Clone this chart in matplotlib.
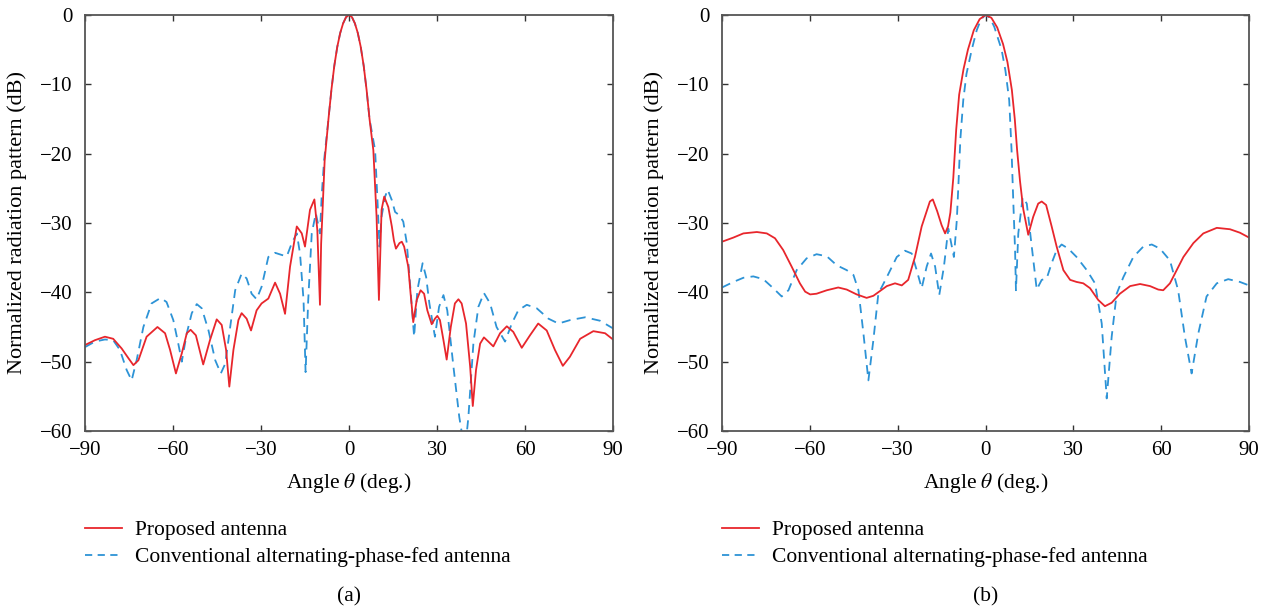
import matplotlib
matplotlib.use("Agg")
import matplotlib.pyplot as plt
from matplotlib.lines import Line2D

plt.rcParams['font.family'] = ['Liberation Serif', 'DejaVu Serif']
plt.rcParams['mathtext.fontset'] = 'stix'

# ---------------- Panel (a) data ----------------
a_red_ang = [-90.0, -86.6, -83.2, -80.4, -77.5, -75.2, -73.5, -71.8, -69.0, -65.3, -62.7, -61.0, -59.0,
             -57.0, -55.3, -54.0, -52.2, -49.7, -47.4, -45.1, -43.4, -41.9, -40.8, -39.4, -37.7, -36.6,
             -34.9, -33.4, -31.5, -29.8, -27.5, -25.2, -23.5, -21.8, -20.1, -17.8, -16.1, -15.0, -13.3,
             -11.8, -10.8, -9.9, -9.5, -9.0, -8.3, -7.0, -6.0, -5.0, -4.0, -3.0, -2.0, -1.0, 0.0,
             1.0, 2.0, 3.0, 4.0, 5.0, 6.0, 7.0, 8.3, 9.4, 10.2, 11.1, 12.0, 13.4, 14.6, 15.3, 16.0,
             17.2, 18.0, 18.8, 20.2, 21.0, 21.9, 23.1, 24.4, 25.6, 26.7, 28.2, 29.3, 30.1, 31.0, 32.2,
             33.3, 34.7, 36.1, 37.3, 38.4, 39.9, 41.3, 42.2, 43.3, 44.7, 46.0, 47.5, 49.2, 51.5, 53.8,
             56.0, 58.9, 61.7, 64.5, 67.4, 70.2, 72.9, 75.3, 78.8, 83.3, 87.3, 90.0]
a_red_db = [-47.6, -46.9, -46.4, -46.7, -48.1, -49.5, -50.5, -49.8, -46.4, -45.0, -45.9, -48.3, -51.7,
            -48.8, -45.9, -45.4, -46.2, -50.4, -46.9, -43.9, -44.7, -48.3, -53.6, -48.3, -44.0, -43.0,
            -43.8, -45.5, -42.6, -41.6, -40.9, -38.6, -40.2, -43.1, -36.3, -30.5, -31.5, -33.4, -28.1,
            -26.6, -31.0, -41.8, -33.0, -28.0, -21.0, -15.0, -10.8, -7.3, -4.6, -2.6, -1.2, -0.3, 0.0,
            -0.3, -1.2, -2.6, -4.6, -7.3, -10.8, -15.0, -19.5, -29.1, -41.1, -28.1, -26.2, -27.7, -30.5, -32.5, -33.7,
            -32.9, -32.7, -33.4, -36.3, -40.2, -44.3, -41.1, -39.7, -40.2, -42.6, -44.6, -43.8, -43.4, -44.0, -46.9,
            -49.7, -45.0, -41.6, -41.0, -41.6, -44.5, -50.7, -56.4, -51.2, -47.4, -46.5, -47.1, -47.8, -45.9, -44.9,
            -45.7, -48.0, -46.2, -44.5, -45.5, -48.3, -50.6, -49.3, -46.7, -45.6, -45.9, -46.8]

a_blue_ang = [-90.0, -86.6, -83.2, -80.4, -78.1, -75.8, -74.1, -72.4, -70.1, -67.3, -64.2, -62.2, -59.9,
              -58.2, -57.0, -55.3, -53.6, -51.9, -50.2, -47.9, -45.6, -43.7, -42.2, -40.5, -38.8, -36.6,
              -34.9, -33.2, -31.5, -29.8, -27.5, -25.2, -23.0, -21.2, -19.5, -17.8, -16.7, -15.5, -14.8,
              -13.9, -12.7, -11.3, -9.9, -9.3, -8.5, -7.0, -6.0, -5.0, -4.0, -3.0, -2.0, -1.0, 0.0,
              1.0, 2.0, 3.0, 4.0, 5.0, 6.0, 7.0, 8.9, 9.7, 10.4, 11.1, 12.3, 13.2, 14.6, 15.7, 17.2,
              18.5, 19.7, 20.8, 22.2, 23.3, 25.1, 26.3, 27.4, 29.3, 30.7, 32.2, 33.5, 35.6, 37.6, 39.5,
              40.7, 42.4, 44.1, 46.0, 48.1, 50.3, 53.2, 55.5, 57.7, 60.6, 64.0, 68.0, 71.4, 75.4, 80.5,
              85.6, 90.0]
a_blue_db = [-47.9, -47.1, -46.8, -46.9, -48.3, -51.2, -52.7, -49.8, -45.0, -41.6, -40.8, -41.4, -44.0,
             -47.4, -50.0, -45.9, -43.0, -41.7, -42.3, -45.5, -49.8, -51.7, -50.3, -45.0, -39.7, -37.3,
             -38.0, -40.2, -41.0, -39.2, -34.9, -34.3, -34.6, -34.8, -32.9, -31.5, -34.4, -41.1, -51.5,
             -41.1, -31.5, -28.6, -31.5, -26.0, -21.0, -15.0, -10.8, -7.3, -4.6, -2.6, -1.2, -0.3, 0.0,
             -0.3, -1.2, -2.6, -4.6, -7.3, -10.8, -15.0, -19.5, -26.7, -33.4, -29.1, -26.2, -25.2, -26.7, -28.4, -28.9,
             -29.8, -32.9, -38.7, -46.4, -39.7, -35.8, -37.8, -41.6, -46.4, -42.1, -40.4, -42.6, -50.7, -58.0, -63.0,
             -58.0, -47.4, -42.1, -40.1, -41.6, -45.0, -47.1, -44.5, -42.6, -41.8, -42.3, -43.8, -44.5, -44.0, -43.6,
             -44.1, -45.2]

# ---------------- Panel (b) data ----------------
b_red_ang = [-90.0, -86.1, -82.7, -78.1, -74.7, -71.9, -69.1, -66.2, -63.4, -61.6, -59.9, -57.7, -54.2,
             -50.3, -47.4, -44.0, -40.6, -38.3, -36.0, -33.7, -30.9, -28.6, -26.4, -24.1, -21.8, -19.0,
             -18.0, -16.5, -15.0, -13.8, -12.8, -12.0, -11.0, -10.0, -9.0, -7.5, -6.0, -4.0, -2.0, 0.0,
             2.0, 4.0, 6.0, 7.5, 9.0, 10.0, 10.8, 11.8, 12.9, 14.6, 16.3, 18.0, 19.2, 20.7, 22.6, 24.3,
             26.6, 28.9, 31.1, 33.4, 35.7, 38.5, 40.8, 43.1, 45.9, 49.4, 52.8, 56.2, 59.0, 60.7, 63.0,
             65.3, 67.6, 71.0, 74.4, 79.0, 83.5, 86.9, 90.0]
b_red_db = [-32.7, -32.1, -31.5, -31.3, -31.5, -32.2, -33.9, -36.3, -38.7, -39.9, -40.3, -40.2, -39.7,
            -39.3, -39.6, -40.3, -40.8, -40.5, -39.8, -39.1, -38.7, -39.0, -38.2, -34.9, -30.5, -26.9,
            -26.6, -28.3, -30.3, -31.5, -30.5, -28.5, -23.5, -16.5, -11.5, -7.8, -5.0, -2.2, -0.6, 0.0,
            -0.4, -1.8, -4.2, -6.8, -10.8, -15.0, -19.5, -24.0, -28.0, -31.7, -29.1, -27.2, -26.9, -27.4, -30.5, -33.4,
            -36.8, -38.2, -38.5, -38.7, -39.4, -41.1, -42.0, -41.5, -40.2, -39.1, -38.8, -39.1, -39.6, -39.7, -38.7,
            -36.8, -34.9, -32.9, -31.5, -30.7, -30.9, -31.4, -32.1]

b_blue_ang = [-90.0, -86.1, -82.7, -79.3, -75.9, -72.5, -69.6, -67.3, -64.5, -61.1, -57.7, -54.2, -50.8,
              -47.4, -45.1, -43.4, -41.7, -40.0, -38.3, -36.6, -33.7, -30.3, -27.5, -25.2, -23.5, -21.8,
              -20.1, -18.6, -17.2, -15.8, -14.2, -12.7, -10.8, -9.8, -9.2, -8.6, -7.6, -6.5, -4.7, -3.0,
              -1.5, 0.0, 1.5, 3.0, 5.5, 6.8, 8.1, 8.9, 9.5, 10.1, 10.4, 11.2, 12.7, 14.1, 15.8, 17.5,
              19.2, 20.9, 22.6, 24.3, 26.0, 28.3, 31.1, 34.6, 37.4, 39.7, 41.4, 43.1, 44.8, 47.1, 50.5,
              53.9, 56.8, 59.6, 63.0, 65.8, 68.1, 70.4, 72.7, 75.5, 79.0, 82.9, 86.9, 90.0]
b_blue_db = [-39.3, -38.5, -37.9, -37.7, -38.1, -39.4, -40.6, -39.7, -36.8, -35.1, -34.5, -34.8, -36.1,
             -36.8, -37.5, -39.7, -45.9, -52.7, -46.9, -40.2, -37.8, -34.9, -34.0, -34.4, -36.8, -39.4,
             -36.3, -34.4, -36.3, -40.4, -36.3, -30.8, -34.9, -29.6, -24.0, -18.0, -12.3, -8.5, -5.0, -2.2,
             -0.6, 0.0, -0.4, -1.7, -5.0, -8.0, -12.3, -19.5, -27.0, -33.9, -39.7, -31.5, -26.3, -27.2, -33.4, -39.6,
             -38.2, -38.0, -35.8, -33.9, -33.1, -33.7, -34.9, -36.8, -38.7, -44.5, -55.3, -46.4, -40.2, -37.8, -34.9,
             -33.4, -33.1, -33.7, -35.4, -39.7, -46.4, -51.7, -45.9, -40.6, -38.7, -38.1, -38.5, -39.0]

xticks = [-90, -60, -30, 0, 30, 60, 90]
yticks = [0, -10, -20, -30, -40, -50, -60]
labels = ['Proposed antenna', 'Conventional alternating-phase-fed antenna']
panel_tags = ['(a)', '(b)']

RED = '#e8262c'
BLUE = '#2d93d6'
FS_TICK = 15
FS_LAB = 15.5
FS_LEG = 15.5

W, H = 1266, 612
fig = plt.figure(figsize=(W / 100, H / 100), dpi=100)
ax_a = fig.add_axes([85 / W, 1 - 431 / H, 528 / W, 416 / H])
ax_b = fig.add_axes([722 / W, 1 - 431 / H, 527 / W, 416 / H])

panels = [(ax_a, a_red_ang, a_red_db, a_blue_ang, a_blue_db),
          (ax_b, b_red_ang, b_red_db, b_blue_ang, b_blue_db)]

for i, (ax, ra, rd, ba, bd) in enumerate(panels):
    ax.plot(ba, bd, color=BLUE, lw=1.3, ls=(0, (5, 3.5)), solid_joinstyle='round')
    ax.plot(ra, rd, color=RED, lw=1.3, solid_joinstyle='round')
    ax.set_xlim(-90, 90)
    ax.set_ylim(-60, 0)
    ax.set_xticks(xticks)
    ax.set_yticks(yticks)
    ax.set_xticklabels([f'{t:d}'.replace('-', '\u2212') for t in xticks])
    ax.set_yticklabels([f'{t:d}'.replace('-', '\u2212') for t in yticks])
    ax.tick_params(direction='in', top=True, right=True, labelsize=FS_TICK, length=4,
                   width=1, color='#333333')
    ax.tick_params(axis='x', pad=7)
    ax.tick_params(axis='y', pad=9)
    for s in ax.spines.values():
        s.set_color('#555555')
        s.set_linewidth(1.3)
    ax.set_xlabel('Angle $\\theta$ (deg.)', fontsize=FS_LAB)
    ax.set_ylabel('Normalized radiation pattern (dB)', fontsize=FS_LAB + 0.5)
    ax.xaxis.set_label_coords(0.5, -0.095)
    ax.yaxis.set_label_coords(-0.11, 0.5)

    x0 = ax.get_position().x0
    handles = [Line2D([], [], color=RED, lw=1.3),
               Line2D([], [], color=BLUE, lw=1.3, ls=(0, (4, 3)))]
    fig.legend(handles, labels, loc='upper left',
               bbox_to_anchor=(x0, 1 - 520 / H), frameon=False,
               fontsize=FS_LEG, handlelength=1.7, handletextpad=0.6, labelspacing=0.33,
               borderaxespad=0, borderpad=0)
    cx = (ax.get_position().x0 + ax.get_position().x1) / 2
    fig.text(cx, 1 - 597 / H, panel_tags[i], ha='center', va='center', fontsize=FS_LEG)

fig.savefig('out.png', dpi=100)
